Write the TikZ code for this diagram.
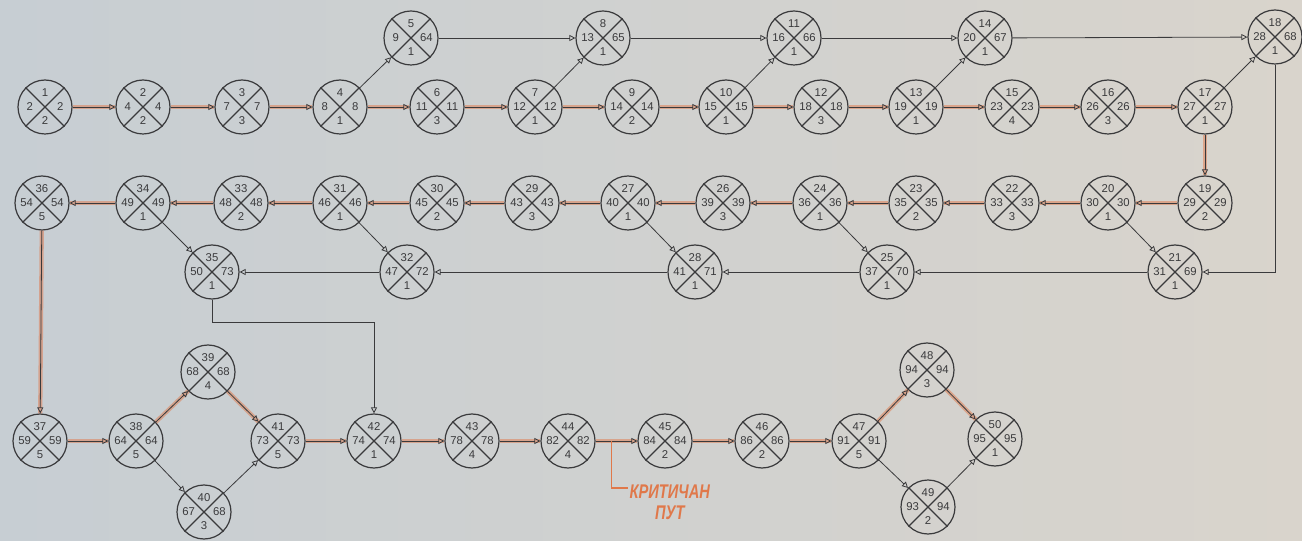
\documentclass[tikz,border=0pt]{standalone}
\usepackage{fontspec}
\setmainfont{Liberation Sans}
\usetikzlibrary{arrows.meta,calc}

\definecolor{bgleft}{HTML}{C7CED3}
\definecolor{bgright}{HTML}{D9D4CC}
\definecolor{ink}{HTML}{3A3A3C}
\definecolor{critcol}{HTML}{E0784A}

\tikzset{
    event/.style={circle, draw=ink, line width=0.9pt, minimum size=40.5pt, inner sep=0pt},
    num/.style={font=\fontsize{8.5}{9}\selectfont, text=ink, inner sep=0pt},
    line/.style={draw=ink, line width=0.6pt, -{Triangle[open,length=4.5pt,width=4.5pt]}},
    crit/.style={line, preaction={draw=critcol, line width=3.2pt, opacity=0.5, -}},
    critmark/.style={draw=critcol, line width=1.2pt},
    critlabel/.style={font=\fontsize{11}{12}\selectfont\bfseries\itshape, text=critcol, inner sep=1pt}
}

\begin{document}
\begin{tikzpicture}[x=0.75pt, y=-0.75pt]
    % Background
    \shade[left color=bgleft, right color=bgright] (0,0) rectangle (1302,541);
    \useasboundingbox (0,0) rectangle (1302,541);

    % Events: number / x / y / top / left / right / bottom
    \foreach \n/\x/\y/\t/\l/\r/\b in {
        1/45/107/1/2/2/2, 2/143/107/2/4/4/2, 3/242/107/3/7/7/3, 4/340/107/4/8/8/1,
        5/411/38/5/9/64/1, 6/437/107/6/11/11/3, 7/535/107/7/12/12/1, 8/603/38/8/13/65/1,
        9/632/107/9/14/14/2, 10/726/107/10/15/15/1, 11/794/38/11/16/66/1, 12/821/107/12/18/18/3,
        13/916/107/13/19/19/1, 14/985/38/14/20/67/1, 15/1012/107/15/23/23/4, 16/1108/107/16/26/26/3,
        17/1205/107/17/27/27/1, 18/1275/37/18/28/68/1, 19/1205/203/19/29/29/2, 20/1108/203/20/30/30/1,
        21/1175/272/21/31/69/1, 22/1012/203/22/33/33/3, 23/916/203/23/35/35/2, 24/820/203/24/36/36/1,
        25/887/272/25/37/70/1, 26/723/203/26/39/39/3, 27/628/203/27/40/40/1, 28/695/272/28/41/71/1,
        29/532/203/29/43/43/3, 30/437/203/30/45/45/2, 31/340/203/31/46/46/1, 32/407/272/32/47/72/1,
        33/241/203/33/48/48/2, 34/143/203/34/49/49/1, 35/212/272/35/50/73/1, 36/42/203/36/54/54/5,
        37/40/441/37/59/59/5, 38/136/441/38/64/64/5, 39/208/372/39/68/68/4, 40/204/512/40/67/68/3,
        41/278/441/41/73/73/5, 42/374/441/42/74/74/1, 43/472/441/43/78/78/4, 44/568/441/44/82/82/4,
        45/665/441/45/84/84/2, 46/762/441/46/86/86/2, 47/859/441/47/91/91/5, 48/927/370/48/94/94/3,
        49/928/507/49/93/94/2, 50/995/439/50/95/95/1}
    {
        \node[event] (n\n) at (\x,\y) {};
        \draw[ink, line width=0.9pt] (n\n.45) -- (n\n.225) (n\n.135) -- (n\n.-45);
        \node[num] (n\n-t) at ([yshift=10.5pt]n\n.center) {\t};
        \node[num] (n\n-l) at ([xshift=-11.5pt]n\n.center) {\l};
        \node[num] (n\n-r) at ([xshift=11.5pt]n\n.center) {\r};
        \node[num] (n\n-b) at ([yshift=-10.5pt]n\n.center) {\b};
    }

    % Critical path
    \foreach \a/\b in {1/2, 2/3, 3/4, 4/6, 6/7, 7/9, 9/10, 10/12, 12/13, 13/15, 15/16, 16/17,
        17/19, 19/20, 20/22, 22/23, 23/24, 24/26, 26/27, 27/29, 29/30, 30/31, 31/33, 33/34, 34/36,
        36/37, 37/38, 38/39, 39/41, 41/42, 42/43, 43/44, 44/45, 45/46, 46/47, 47/48, 48/50}
        \draw[crit] (n\a) -- (n\b);

    % Other activities
    \foreach \a/\b in {4/5, 5/8, 7/8, 8/11, 10/11, 11/14, 13/14, 14/18, 17/18, 20/21, 21/25,
        24/25, 25/28, 27/28, 28/32, 31/32, 32/35, 34/35, 38/40, 40/41, 47/49, 49/50}
        \draw[line] (n\a) -- (n\b);
    \draw[line] (n18) |- (n21);
    \coordinate (jog) at (0,322);
    \draw[line] (n35) -- (n35 |- jog) -| (n42);

    % Critical path label
    \coordinate (tap) at ($(n44)!0.45!(n45)$);
    \node[critlabel, anchor=west] (critlbl) at (628,492) {\scalebox{1}[1.35]{КРИТИЧАН}};
    \node[critlabel, below=3pt] (critlbl2) at (critlbl.south) {\scalebox{1}[1.35]{ПУТ}};
    \draw[critmark] (tap) |- ([yshift=3pt]critlbl.west);

\end{tikzpicture}
\end{document}
